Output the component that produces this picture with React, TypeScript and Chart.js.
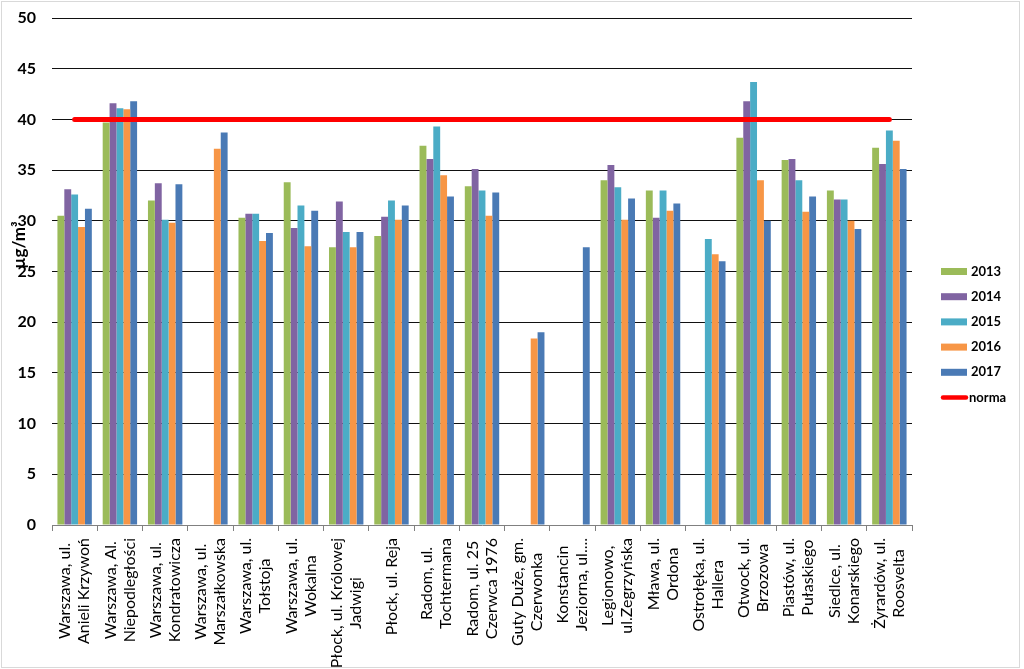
import React, { useEffect, useRef } from "react";
import { Chart, registerables } from "chart.js";

Chart.register(...registerables);

const categories: string[][] = [
  ["Warszawa, ul.", "Anieli Krzywoń"],
  ["Warszawa, Al.", "Niepodległości"],
  ["Warszawa, ul.", "Kondratowicza"],
  ["Warszawa, ul.", "Marszałkowska"],
  ["Warszawa, ul.", "Tołstoja"],
  ["Warszawa, ul.", "Wokalna"],
  ["Płock, ul. Królowej", "Jadwigi"],
  ["Płock, ul. Reja"],
  ["Radom, ul.", "Tochtermana"],
  ["Radom, ul. 25", "Czerwca 1976"],
  ["Guty Duże, gm.", "Czerwonka"],
  ["Konstancin", "Jeziorna, ul...."],
  ["Legionowo,", "ul.Zegrzyńska"],
  ["Mława, ul.", "Ordona"],
  ["Ostrołęka, ul.", "Hallera"],
  ["Otwock, ul.", "Brzozowa"],
  ["Piastów, ul.", "Pułaskiego"],
  ["Siedlce, ul.", "Konarskiego"],
  ["Żyrardów, ul.", "Roosvelta"],
];

const v2013 = [30.5, 39.7, 32.0, null, 30.3, 33.8, 27.4, 28.5, 37.4, 33.4, null, null, 34.0, 33.0, null, 38.2, 36.0, 33.0, 37.2];
const v2014 = [33.1, 41.6, 33.7, null, 30.7, 29.3, 31.9, 30.4, 36.1, 35.1, null, null, 35.5, 30.3, null, 41.8, 36.1, 32.1, 35.6];
const v2015 = [32.6, 41.1, 30.1, null, 30.7, 31.5, 28.9, 32.0, 39.3, 33.0, null, null, 33.3, 33.0, 28.2, 43.7, 34.0, 32.1, 38.9];
const v2016 = [29.4, 41.0, 29.8, 37.1, 28.0, 27.5, 27.4, 30.1, 34.5, 30.5, 18.4, null, 30.1, 31.0, 26.7, 34.0, 30.9, 30.0, 37.9];
const v2017 = [31.2, 41.8, 33.6, 38.7, 28.8, 31.0, 28.9, 31.5, 32.4, 32.8, 19.0, 27.4, 32.2, 31.7, 26.0, 30.0, 32.4, 29.2, 35.1];
const norma = [40, 40, 40, 40, 40, 40, 40, 40, 40, 40, 40, 40, 40, 40, 40, 40, 40, 40, 40];

const seriesNames = ["2013", "2014", "2015", "2016", "2017"];
const seriesColors = ["#9BBB59", "#8064A2", "#4BACC6", "#F79646", "#4A7AB5"];
const normaName = "norma";
const yTitle = "µg/m³";

const textPlugin = {
  id: "customText",
  afterDraw(chart: any) {
    const ctx = chart.ctx as CanvasRenderingContext2D;
    const xs = chart.scales.x;
    ctx.save();
    ctx.fillStyle = "#000";
    // x labels
    ctx.font = "16px Lato";
    const LH = 19;
    categories.forEach((lines, i) => {
      const cx = xs.getPixelForValue(i);
      const W = Math.max(...lines.map((l) => ctx.measureText(l).width));
      ctx.save();
      ctx.translate(cx, 538);
      ctx.rotate(-Math.PI / 2);
      ctx.textAlign = "center";
      ctx.textBaseline = "middle";
      lines.forEach((l, j) => {
        ctx.fillText(l, -W / 2, (j - (lines.length - 1) / 2) * LH);
      });
      ctx.restore();
    });
    // y title
    ctx.save();
    ctx.font = "bold 17px Lato";
    ctx.translate(20, 245);
    ctx.rotate(-Math.PI / 2);
    ctx.textAlign = "center";
    ctx.textBaseline = "middle";
    ctx.fillText(yTitle, 0, 0);
    ctx.restore();
    // legend
    ctx.font = "bold 13px Lato";
    ctx.textAlign = "left";
    ctx.textBaseline = "middle";
    const rowStart = 271.5;
    const rowGap = 25.2;
    seriesNames.forEach((name, i) => {
      const y = rowStart + i * rowGap;
      ctx.fillStyle = seriesColors[i];
      ctx.fillRect(941, y - 3.5, 26, 7);
      ctx.fillStyle = "#000";
      ctx.fillText(name, 971, y);
    });
    const ny = rowStart + 5 * rowGap;
    ctx.strokeStyle = "#FF0000";
    ctx.lineWidth = 4.5;
    ctx.lineCap = "round";
    ctx.beginPath();
    ctx.moveTo(943, ny);
    ctx.lineTo(966, ny);
    ctx.stroke();
    ctx.fillStyle = "#000";
    ctx.fillText(normaName, 969, ny);
    ctx.restore();
  },
};

export default function App() {
  const ref = useRef<HTMLCanvasElement | null>(null);
  useEffect(() => {
    if (!ref.current) return;
    Chart.defaults.font.family = "Lato";
    const seriesData = [v2013, v2014, v2015, v2016, v2017];
    const chart = new Chart(ref.current, {
      type: "bar",
      data: {
        labels: categories.map((c) => c.join(" ")),
        datasets: [
          {
            type: "line" as const,
            label: normaName,
            data: norma,
            borderColor: "#FF0000",
            backgroundColor: "#FF0000",
            borderWidth: 5,
            borderCapStyle: "round",
            pointRadius: 0,
            order: 0,
          } as any,
          ...seriesData.map((d, i) => ({
            type: "bar" as const,
            label: seriesNames[i],
            data: d,
            backgroundColor: seriesColors[i],
            borderWidth: 0,
            categoryPercentage: 0.76,
            barPercentage: 1,
            order: 1,
          })),
        ],
      },
      options: {
        responsive: false,
        animation: false,
        layout: { padding: { top: 18, right: 112, left: 0, bottom: 0 } },
        plugins: {
          legend: { display: false },
          tooltip: { enabled: false },
          title: { display: false },
        },
        scales: {
          x: {
            grid: {
              display: true,
              drawOnChartArea: false,
              drawTicks: true,
              tickLength: 6,
              color: "#808080",
              offset: true,
            },
            border: { display: true, color: "#808080", width: 1 },
            ticks: { display: false },
            afterFit: (s: any) => {
              s.height = 144;
            },
          },
          y: {
            min: 0,
            max: 50,
            ticks: {
              stepSize: 5,
              padding: 3,
              color: "#000",
              font: { family: "Lato", size: 16, weight: "bold" },
            },
            grid: {
              drawTicks: true,
              tickLength: 13,
              tickColor: "rgba(0,0,0,0)",
              color: (c: any) => (c.tick && c.tick.value === 0 ? "rgba(0,0,0,0)" : "#111"),
              lineWidth: 1,
            },
            border: { display: false },
            afterFit: (s: any) => {
              s.width = 52;
            },
          },
        },
      },
      plugins: [textPlugin],
    });
    return () => chart.destroy();
  }, []);
  return (
    <div style={{ position: "fixed", left: 0, top: 0, width: 1024, height: 669, background: "#fff" }}>
      <canvas ref={ref} width={1024} height={669} style={{ position: "absolute", left: 0, top: 0, width: 1024, height: 669 }} />
      <div
        style={{
          position: "absolute",
          left: 1,
          top: 1,
          width: 1019,
          height: 667,
          border: "1px solid #d9d9d9",
          boxSizing: "border-box",
          pointerEvents: "none",
        }}
      />
    </div>
  );
}
